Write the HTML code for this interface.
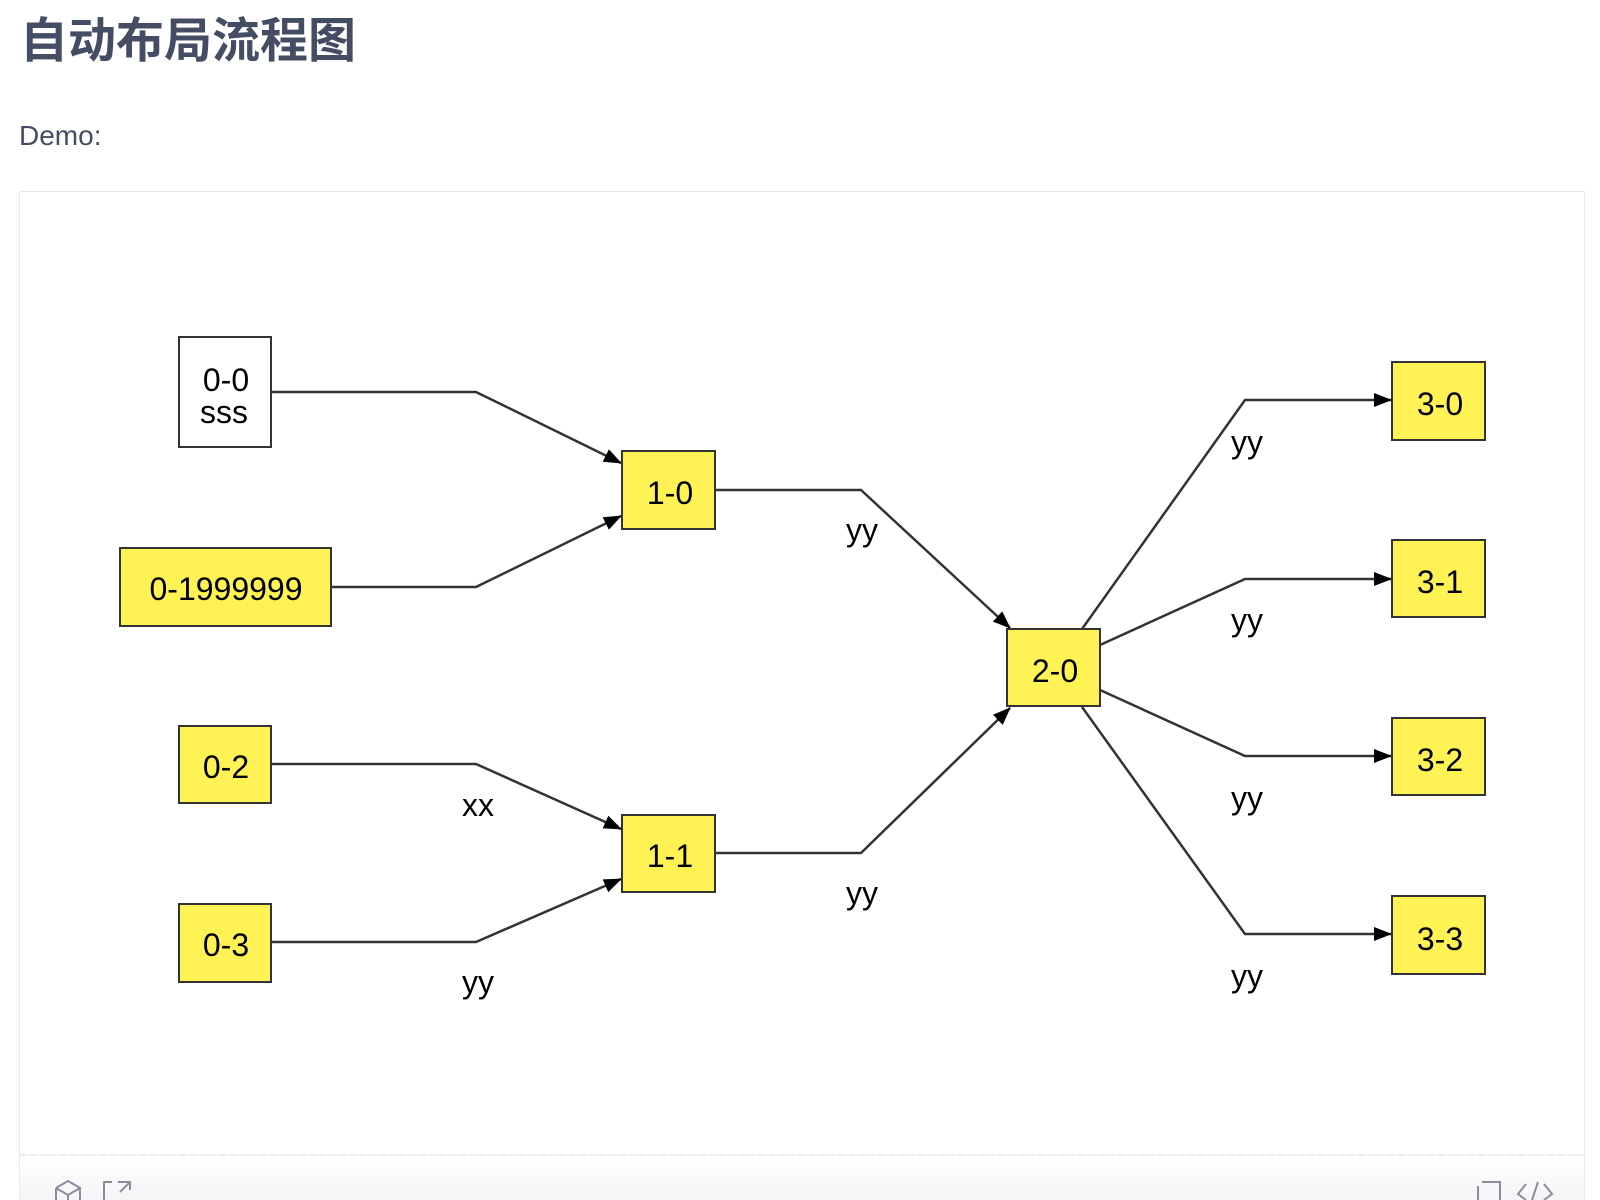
<!DOCTYPE html>
<html><head><meta charset="utf-8"><style>
html,body{margin:0;width:1600px;height:1200px;overflow:hidden}
body{background:#fff;font-family:"Liberation Sans","Noto Sans CJK SC",sans-serif;position:relative}
.t{position:absolute;left:20px;top:11px;font-size:48px;font-weight:bold;color:#454d64;margin:0;line-height:62px}
.d{position:absolute;left:19px;top:120px;font-size:28px;color:#454d64}
.box{position:absolute;left:19px;top:191px;width:1566px;height:1009px;border:1px solid #e8e8ee;border-bottom:none;box-sizing:border-box}
.foot{position:absolute;left:20px;top:1154px;width:1564px;height:46px;border-top:2px dashed #ececf0;background:linear-gradient(#fff,#f5f5f7);box-sizing:border-box}
</style></head><body>
<h1 class="t">自动布局流程图</h1>
<div class="d">Demo:</div>
<div class="box"></div>
<div class="foot"></div>
<svg width="1600" height="1200" style="position:absolute;left:0;top:0" font-family="Liberation Sans, sans-serif">
<defs>
<marker id="b" markerWidth="18" markerHeight="14" refX="17" refY="7" orient="auto" markerUnits="userSpaceOnUse"><path d="M0,0 L18,7 L0,14z" fill="#000"/></marker></defs>
<g fill="none" stroke="#333" stroke-width="2.5" marker-end="url(#b)">
<polyline points="271,392 476,392 621,463"/>
<polyline points="331,587 476,587 621,516"/>
<polyline points="271,764 476,764 621,829"/>
<polyline points="271,942 476,942 621,879"/>
<polyline points="715,490 861,490 1010,628"/>
<polyline points="715,853 861,853 1010,708"/>
<polyline points="1082,629 1245,400 1391,400"/>
<polyline points="1100,645 1245,579 1391,579"/>
<polyline points="1100,690 1245,756 1391,756"/>
<polyline points="1082,707 1245,934 1391,934"/>
</g>
<g stroke="#333" stroke-width="2">
<rect x="179" y="337" width="92" height="110" fill="#fff"/>
<rect x="120" y="548" width="211" height="78" fill="#fff254"/>
<rect x="179" y="726" width="92" height="77" fill="#fff254"/>
<rect x="179" y="904" width="92" height="78" fill="#fff254"/>
<rect x="622" y="451" width="93" height="78" fill="#fff254"/>
<rect x="622" y="815" width="93" height="77" fill="#fff254"/>
<rect x="1007" y="629" width="93" height="77" fill="#fff254"/>
<rect x="1392" y="362" width="93" height="78" fill="#fff254"/>
<rect x="1392" y="540" width="93" height="77" fill="#fff254"/>
<rect x="1392" y="718" width="93" height="77" fill="#fff254"/>
<rect x="1392" y="896" width="93" height="78" fill="#fff254"/>
</g>
<g font-size="32" text-anchor="middle" fill="#000">
<text x="226" y="391">0-0</text><text x="224" y="423">sss</text>
<text x="226" y="600">0-1999999</text>
<text x="226" y="778">0-2</text>
<text x="226" y="956">0-3</text>
<text x="670" y="504">1-0</text>
<text x="670" y="867">1-1</text>
<text x="1055" y="682">2-0</text>
<text x="1440" y="415">3-0</text>
<text x="1440" y="593">3-1</text>
<text x="1440" y="771">3-2</text>
<text x="1440" y="950">3-3</text>
<text x="862" y="541">yy</text>
<text x="862" y="904">yy</text>
<text x="478" y="816">xx</text>
<text x="478" y="993">yy</text>
<text x="1247" y="453">yy</text>
<text x="1247" y="631">yy</text>
<text x="1247" y="809">yy</text>
<text x="1247" y="987">yy</text>
</g>
<g stroke="#8a8e9c" stroke-width="2" fill="none">
<path d="M56,1188 L68,1181 L80,1188 L80,1200 M56,1188 L56,1200 M56,1188 L68,1195 L80,1188 M68,1195 V1200"/>
<path d="M112,1182 H104 V1200 M118,1182 H130 V1190 M130,1182 L120,1192"/>
<path d="M1478,1186 V1200 M1482,1182 H1500 V1200"/>
<path d="M1526,1184 L1518,1194 L1526,1200 M1544,1184 L1552,1194 L1544,1200 M1538,1182 L1532,1200"/>
</g>
</svg>
</body></html>
